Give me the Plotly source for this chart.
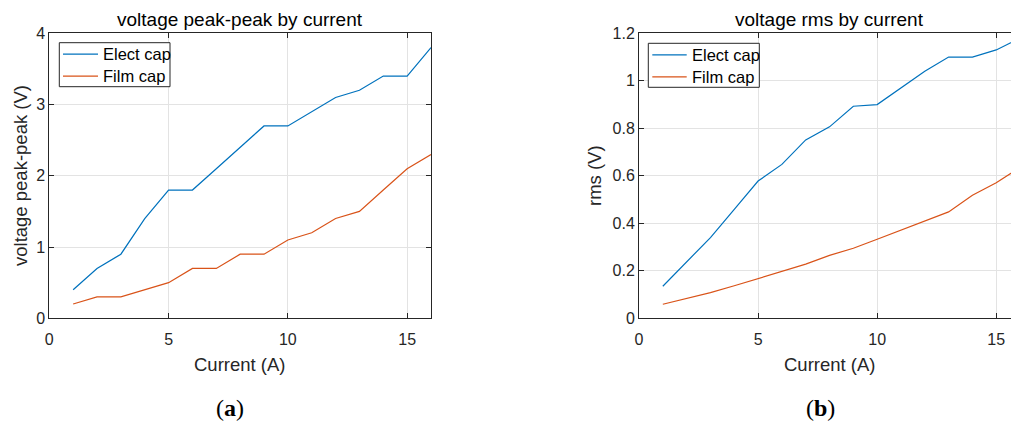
import plotly.graph_objects as go

W, H = 1011, 423

# Measured data: supply current vs. ripple voltage on two capacitor types
current = list(range(1, 17))
vpp_elect = [0.4, 0.7, 0.9, 1.4, 1.8, 1.8, 2.1, 2.4, 2.7, 2.7, 2.9, 3.1, 3.2, 3.4, 3.4, 3.8]
vpp_film = [0.2, 0.3, 0.3, 0.4, 0.5, 0.7, 0.7, 0.9, 0.9, 1.1, 1.2, 1.4, 1.5, 1.8, 2.1, 2.3]
rms_elect = [0.135, 0.237, 0.34, 0.459, 0.578, 0.648, 0.751, 0.806, 0.893, 0.900,
             0.97, 1.04, 1.10, 1.10, 1.13, 1.18]
rms_film = [0.059, 0.083, 0.108, 0.137, 0.167, 0.196, 0.228, 0.265, 0.295, 0.333,
            0.371, 0.41, 0.448, 0.518, 0.571, 0.635]

series_names = ["Elect cap", "Film cap"]
x_ticks = [0, 5, 10, 15]
vpp_ticks = [0, 1, 2, 3, 4]
rms_ticks = [0, 0.2, 0.4, 0.6, 0.8, 1, 1.2]

BLUE = "#0072BD"
ORANGE = "#D95319"
AX = "#262626"
GRID = "#e3e3e3"
FONT = "Liberation Sans, Arial, sans-serif"
COLORS = [BLUE, ORANGE]


def px_x(p):
    return p / W


def px_y(p):
    return 1 - p / H


fig = go.Figure()

for name, ys, col in zip(series_names, [vpp_elect, vpp_film], COLORS):
    fig.add_trace(go.Scatter(x=current, y=ys, mode="lines", name=name,
                             line=dict(color=col, width=1.2),
                             xaxis="x", yaxis="y", showlegend=False))

for name, ys, col in zip(series_names, [rms_elect, rms_film], COLORS):
    fig.add_trace(go.Scatter(x=current, y=ys, mode="lines", name=name,
                             line=dict(color=col, width=1.2),
                             xaxis="x2", yaxis="y2", showlegend=False))

ydom = [px_y(318.3), px_y(33.3)]

axis_common = dict(
    showline=True, linecolor=AX, linewidth=1,
    ticks="inside", ticklen=5, tickcolor=AX, tickwidth=1,
    showgrid=True, gridcolor=GRID, gridwidth=1,
    zeroline=False,
    tickfont=dict(family=FONT, size=16, color=AX),
    automargin=False,
)

fig.update_layout(
    width=W, height=H,
    margin=dict(l=0, r=0, t=0, b=0),
    paper_bgcolor="white", plot_bgcolor="white",
    showlegend=False,
    xaxis=dict(domain=[px_x(49.3), px_x(431)], range=[0, 16], tickvals=x_ticks,
               mirror="allticks", anchor="y", ticklabelstandoff=6, **axis_common),
    yaxis=dict(domain=ydom, range=[0, 4], tickvals=vpp_ticks,
               mirror="allticks", anchor="x", **axis_common),
    xaxis2=dict(domain=[px_x(639), 1.0], range=[0, 15.62], tickvals=x_ticks,
                mirror="allticks", anchor="y2", ticklabelstandoff=6, **axis_common),
    yaxis2=dict(domain=ydom, range=[0, 1.2], tickvals=rms_ticks,
                mirror=False, anchor="x2", **axis_common),
)

# Legend boxes (one per panel), drawn in pixel-space via paper coordinates
legend_boxes = [
    dict(x0=59.3, x1=170.0, y0=42.7, y1=86.7, lx0=63.0, lx1=98.0, tx=101.0),
    dict(x0=648.3, x1=759.3, y0=43.3, y1=87.3, lx0=652.3, lx1=686.7, tx=690.0),
]
for box in legend_boxes:
    fig.add_shape(type="rect", xref="paper", yref="paper",
                  x0=px_x(box["x0"]), x1=px_x(box["x1"]),
                  y0=px_y(box["y1"]), y1=px_y(box["y0"]),
                  line=dict(color=AX, width=1), fillcolor="white", layer="above")
    row_h = (box["y1"] - box["y0"]) / 2
    for i, (name, col) in enumerate(zip(series_names, COLORS)):
        yc = box["y0"] + row_h * (i + 0.5) + 0.5
        fig.add_shape(type="line", xref="paper", yref="paper",
                      x0=px_x(box["lx0"]), x1=px_x(box["lx1"]),
                      y0=px_y(yc), y1=px_y(yc),
                      line=dict(color=col, width=1.2), layer="above")
        fig.add_annotation(text=name, x=px_x(box["tx"]), y=px_y(yc),
                           xref="paper", yref="paper", xanchor="left", yanchor="middle",
                           showarrow=False,
                           font=dict(family=FONT, size=16.5, color="black"))

annotations = [
    dict(text="voltage peak-peak by current", x=px_x(240), y=px_y(20), size=19, color="black"),
    dict(text="voltage rms by current", x=px_x(829.5), y=px_y(20), size=19, color="black"),
    dict(text="Current (A)", x=px_x(240), y=px_y(364), size=18.5, color=AX),
    dict(text="Current (A)", x=px_x(829.5), y=px_y(364), size=18.5, color=AX),
]
for a in annotations:
    fig.add_annotation(text=a["text"], x=a["x"], y=a["y"], xref="paper", yref="paper",
                       xanchor="center", yanchor="middle", showarrow=False,
                       font=dict(family=FONT, size=a["size"], color=a["color"]))

for text, xp in [("voltage peak-peak (V)", 21), ("rms (V)", 595)]:
    fig.add_annotation(text=text, x=px_x(xp), y=px_y(176), xref="paper", yref="paper",
                       xanchor="center", yanchor="middle", showarrow=False, textangle=-90,
                       font=dict(family=FONT, size=18.5, color=AX))

for text, xp in [("(<b>a</b>)", 230), ("(<b>b</b>)", 820)]:
    fig.add_annotation(text=text, x=px_x(xp), y=px_y(408), xref="paper", yref="paper",
                       xanchor="center", yanchor="middle", showarrow=False,
                       font=dict(family="Liberation Serif, Times New Roman, serif", size=24,
                                 color="black"))

fig.write_html("out.html")
